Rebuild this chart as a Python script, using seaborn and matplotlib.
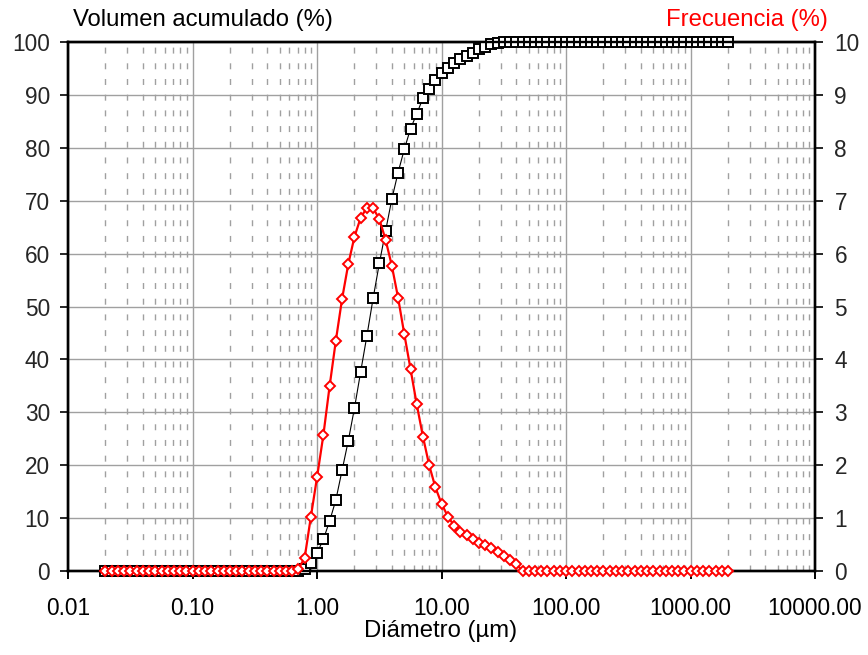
import numpy as np
import pandas as pd
import matplotlib
matplotlib.use("Agg")
import matplotlib.pyplot as plt
from matplotlib.ticker import FixedLocator, FuncFormatter, NullFormatter
import seaborn as sns

# Size classes (µm)
diametro = [
    0.020, 0.0224, 0.0252, 0.0283, 0.0317, 0.0356, 0.0399, 0.0448, 0.0502, 0.0564,
    0.0632, 0.0710, 0.0796, 0.0893, 0.1002, 0.1125, 0.1262, 0.1416, 0.1589, 0.1783,
    0.2000, 0.2244, 0.2518, 0.2825, 0.3170, 0.3557, 0.3991, 0.4477, 0.5024, 0.5637,
    0.6325, 0.7096, 0.7962, 0.8934, 1.002, 1.125, 1.262, 1.416, 1.589, 1.783,
    2.000, 2.244, 2.518, 2.825, 3.170, 3.557, 3.991, 4.477, 5.024, 5.637,
    6.325, 7.096, 7.962, 8.934, 10.024, 11.247, 12.619, 14.159, 15.887, 17.825,
    20.000, 22.440, 25.179, 28.251, 31.698, 35.566, 39.905, 44.774, 50.238, 56.368,
    63.246, 70.963, 79.621, 89.337, 100.237, 112.468, 126.191, 141.589, 158.866, 178.250,
    200.000, 224.404, 251.785, 282.508, 316.979, 355.656, 399.052, 447.744, 502.377, 563.677,
    632.456, 709.627, 796.214, 893.367, 1002.374, 1124.683, 1261.915, 1415.892, 1588.656, 1782.502,
    2000.000,
]

# Cumulative volume (%)
volumen_acumulado = (
    [0.0] * 32
    + [0.3, 1.5, 3.4, 6.0, 9.4, 13.4, 19.0, 24.6, 30.8, 37.7,
       44.5, 51.6, 58.2, 64.3, 70.3, 75.3, 79.7, 83.6, 86.4, 89.4,
       91.1, 92.8, 94.2, 95.1, 96.0, 96.8, 97.4, 98.0, 98.6, 99.1,
       99.6, 99.9]
    + [100.0] * 37
)

# Volume frequency (%)
frecuencia = (
    [0.0] * 31
    + [0.04, 0.25, 1.03, 1.78, 2.57, 3.49, 4.35, 5.14, 5.80, 6.32,
       6.68, 6.87, 6.86, 6.65, 6.26, 5.77, 5.17, 4.48, 3.82, 3.15,
       2.54, 2.00, 1.58, 1.27, 1.03, 0.86, 0.74, 0.68, 0.60, 0.52,
       0.50, 0.43, 0.36, 0.28, 0.21, 0.13]
    + [0.0] * 34
)

x_ticks = [0.01, 0.1, 1, 10, 100, 1000, 10000]
y_left_ticks = [0, 10, 20, 30, 40, 50, 60, 70, 80, 90, 100]
y_right_ticks = [0, 1, 2, 3, 4, 5, 6, 7, 8, 9, 10]

df = pd.DataFrame({"d": diametro, "acum": volumen_acumulado, "frec": frecuencia})

sns.set_style("white")
plt.rcParams["font.family"] = ["Liberation Sans", "DejaVu Sans"]
plt.rcParams["lines.scale_dashes"] = False

FS_TICK = 16.3
FS_LABEL = 17.2
fig = plt.figure(figsize=(8.68, 6.55), dpi=100)
ax = fig.add_axes([68 / 868, 1 - 571 / 655, (815 - 68) / 868, (571 - 42) / 655])
ax2 = ax.twinx()

grid_col = "#a0a0a0"
ax.set_xscale("log")
ax.set_xlim(0.01, 10000)
ax.set_ylim(0, 100)
ax2.set_ylim(0, 10)

ax.xaxis.set_major_locator(FixedLocator(x_ticks))
ax.xaxis.set_major_formatter(FuncFormatter(lambda v, p: f"{v:.2f}"))
minor = [m * 10.0 ** e for e in range(-2, 4) for m in range(2, 10)]
ax.xaxis.set_minor_locator(FixedLocator(minor))
ax.xaxis.set_minor_formatter(NullFormatter())
ax.set_yticks(y_left_ticks)
ax2.set_yticks(y_right_ticks)

ax.grid(True, which="major", axis="both", color=grid_col, lw=1.0)
ax.grid(True, which="minor", axis="x", color=grid_col, lw=1.0, dashes=(4.3, 7.0))
ax.set_axisbelow(True)

sns.lineplot(data=df, x="d", y="acum", ax=ax, sort=False, color="black", lw=0.8,
             marker="s", markersize=7.2, markerfacecolor="white",
             markeredgecolor="black", markeredgewidth=1.4, clip_on=False, zorder=3)
sns.lineplot(data=df, x="d", y="frec", ax=ax2, sort=False, color="#ff0000", lw=1.6,
             marker="D", markersize=5.2, markerfacecolor="white",
             markeredgecolor="#ff0000", markeredgewidth=1.4, clip_on=False, zorder=4)

for a in (ax, ax2):
    a.set_xlabel("")
    a.set_ylabel("")
    for s in a.spines.values():
        s.set_color("black")
        s.set_linewidth(1.7)

ax.tick_params(axis="x", which="major", direction="out", length=6, width=1.4,
               pad=12.5, labelsize=FS_TICK, colors="black", bottom=True)
ax.tick_params(axis="x", which="minor", length=0)
ax.tick_params(axis="y", direction="out", length=6, width=1.4, pad=7,
               labelsize=FS_TICK, left=True)
ax2.tick_params(axis="y", direction="out", length=6, width=1.4, pad=8,
                labelsize=FS_TICK, right=True)

fig.text(73 / 868, 1 - 20 / 655, "Volumen acumulado (%)", fontsize=FS_LABEL,
         ha="left", va="center", color="black")
fig.text(828 / 868, 1 - 20 / 655, "Frecuencia (%)", fontsize=FS_LABEL,
         ha="right", va="center", color="#ff0000")
fig.text(441 / 868, 1 - 637 / 655, "Diámetro (µm)", fontsize=FS_LABEL,
         ha="center", va="baseline", color="black")

fig.savefig("out.png", dpi=100)
